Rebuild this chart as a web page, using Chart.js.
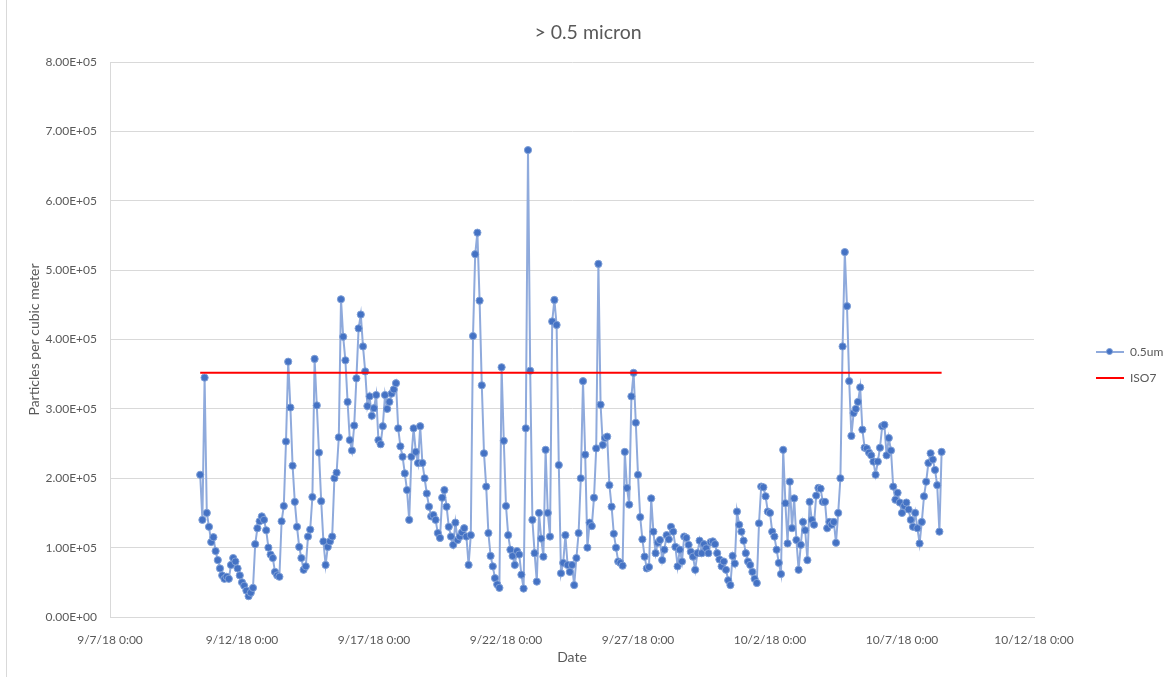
<!DOCTYPE html>
<html lang="en">
<head>
<meta charset="UTF-8" />
<title>&gt; 0.5 micron</title>
<script src="https://cdn.jsdelivr.net/npm/chart.js"></script>
<style>
  html, body {
    margin: 0;
    padding: 0;
    background: #fff;
    overflow: hidden;
  }
  body {
    width: 1176px;
    height: 677px;
    position: relative;
    font-family: Lato, "Open Sans", sans-serif;
  }
  .frame {
    position: absolute;
    left: 6px;
    top: -1px;
    width: 1200px;
    height: 700px;
    border: 1px solid #d9d9d9;
  }
  canvas {
    position: absolute;
    left: 0;
    top: 0;
  }
  .legend {
    position: absolute;
    left: 1096px;
    top: 339px;
    color: #595959;
    font-size: 12px;
  }
  .legend .item {
    height: 26px;
    line-height: 20px;
    display: flex;
    align-items: center;
  }
  .legend .sym {
    position: relative;
    width: 28px;
    height: 20px;
    margin-right: 6px;
  }
  .legend .sym .ln {
    position: absolute;
    left: 0;
    right: 0;
    top: 9px;
    height: 2px;
  }
  .legend .sym .dot {
    position: absolute;
    left: 10px;
    top: 6px;
    width: 7px;
    height: 7px;
    border-radius: 50%;
    background: #4472c4;
    border: 1px solid #7f9fd6;
    box-sizing: border-box;
  }
</style>
</head>
<body>
  <div class="frame"></div>
  <canvas id="chart" width="1176" height="677"></canvas>
  <div class="legend">
    <div class="item"><span class="sym"><span class="ln" style="background:#8faadc"></span><span class="dot"></span></span>0.5um</div>
    <div class="item"><span class="sym"><span class="ln" style="background:#ff0000"></span></span>ISO7</div>
  </div>

  <script>
    // readings every 2 hours, particles per cubic meter
    const axisStart = '2018-09-07T00:00:00Z';
    const axisEnd = '2018-10-12T00:00:00Z';
    const firstReading = '2018-09-10T10:00:00Z';
    const stepHours = 2;
    const particles = [
      205000, 140000, 345000, 150000, 130000, 108000, 115000, 95000, 82000, 70000, 60000, 55000,
      58000, 55000, 75000, 85000, 80000, 70000, 60000, 50000, 45000, 38000, 30000, 35000,
      42000, 105000, 128000, 138000, 145000, 140000, 125000, 100000, 90000, 85000, 65000, 60000,
      58000, 138000, 160000, 253000, 368000, 302000, 218000, 166000, 130000, 101000, 85000, 68000,
      73000, 116000, 126000, 173000, 372000, 305000, 237000, 167000, 109000, 75000, 101000, 109000,
      116000, 200000, 208000, 259000, 458000, 404000, 370000, 310000, 255000, 240000, 276000, 344000,
      416000, 436000, 390000, 354000, 304000, 318000, 290000, 301000, 320000, 255000, 249000, 275000,
      320000, 300000, 310000, 322000, 328000, 337000, 272000, 246000, 231000, 207000, 183000, 140000,
      231000, 272000, 238000, 222000, 275000, 222000, 200000, 178000, 159000, 145000, 147000, 140000,
      121000, 114000, 172000, 183000, 159000, 130000, 116000, 104000, 136000, 111000, 116000, 122000,
      128000, 116000, 75000, 118000, 405000, 523000, 554000, 456000, 334000, 236000, 188000, 121000,
      88000, 73000, 56000, 47000, 42000, 360000, 254000, 160000, 118000, 97000, 88000, 75000,
      95000, 90000, 61000, 41000, 272000, 673000, 355000, 140000, 92000, 51000, 150000, 113000,
      87000, 241000, 150000, 116000, 426000, 457000, 421000, 219000, 63000, 78000, 118000, 75000,
      65000, 75000, 46000, 85000, 121000, 200000, 340000, 234000, 100000, 136000, 131000, 172000,
      243000, 509000, 306000, 248000, 258000, 260000, 190000, 159000, 120000, 100000, 80000, 78000,
      74000, 238000, 186000, 162000, 318000, 352000, 280000, 205000, 144000, 112000, 87000, 70000,
      72000, 171000, 123000, 92000, 107000, 111000, 82000, 97000, 118000, 112000, 130000, 123000,
      101000, 73000, 97000, 80000, 116000, 114000, 104000, 94000, 87000, 68000, 92000, 110000,
      92000, 105000, 99000, 92000, 108000, 109000, 105000, 92000, 83000, 73000, 80000, 68000,
      53000, 46000, 88000, 77000, 152000, 133000, 123000, 110000, 92000, 80000, 75000, 65000,
      55000, 49000, 135000, 188000, 187000, 174000, 152000, 150000, 123000, 116000, 97000, 78000,
      62000, 241000, 164000, 106000, 195000, 128000, 171000, 111000, 68000, 104000, 137000, 125000,
      82000, 166000, 140000, 133000, 175000, 186000, 185000, 166000, 166000, 128000, 137000, 133000,
      137000, 107000, 150000, 200000, 390000, 526000, 448000, 340000, 261000, 294000, 300000, 310000,
      331000, 270000, 244000, 243000, 237000, 233000, 224000, 205000, 224000, 244000, 275000, 277000,
      233000, 258000, 240000, 188000, 169000, 179000, 165000, 150000, 160000, 165000, 155000, 140000,
      130000, 150000, 128000, 106000, 137000, 174000, 195000, 222000, 236000, 227000, 212000, 190000,
      123000, 238000
    ];
    const iso7Limit = 352000;
    const yMax = 800000;
    const yStep = 100000;
    const xStepDays = 5;

    const DAY = 86400000;
    const t0 = Date.parse(axisStart);
    const firstDay = (Date.parse(firstReading) - t0) / DAY;
    const lastDay = firstDay + (particles.length - 1) * stepHours / 24;

    const points = particles.map((v, i) => ({ x: firstDay + i * stepHours / 24, y: v }));
    const isoPoints = [{ x: firstDay, y: iso7Limit }, { x: lastDay, y: iso7Limit }];

    function fmtDate(v) {
      const d = new Date(t0 + v * DAY);
      const mm = String(d.getUTCMinutes()).padStart(2, '0');
      return (d.getUTCMonth() + 1) + '/' + d.getUTCDate() + '/' + String(d.getUTCFullYear()).slice(2) + ' ' + d.getUTCHours() + ':' + mm;
    }

    function sci(v) {
      if (v === 0) return '0.00E+00';
      const e = Math.floor(Math.log10(v) + 1e-9);
      const m = v / Math.pow(10, e);
      return m.toFixed(2) + 'E+' + String(e).padStart(2, '0');
    }

    const textColor = '#595959';
    const font = { family: 'Lato', size: 12 };

    new Chart(document.getElementById('chart'), {
      type: 'line',
      data: {
        datasets: [
          {
            label: '0.5um',
            data: points,
            borderColor: '#8faadc',
            borderWidth: 2,
            tension: 0,
            pointRadius: 3.6,
            pointBackgroundColor: '#4472c4',
            pointBorderColor: '#7f9fd6',
            pointBorderWidth: 1,
            order: 1
          },
          {
            label: 'ISO7',
            data: isoPoints,
            borderColor: '#ff0000',
            borderWidth: 2,
            pointRadius: 0,
            order: 0
          }
        ]
      },
      options: {
        responsive: false,
        animation: false,
        events: [],
        layout: { padding: 0 },
        plugins: {
          legend: { display: false },
          tooltip: { enabled: false },
          title: {
            display: true,
            text: '> 0.5 micron',
            color: textColor,
            font: { family: 'Lato', size: 19.5, weight: 'normal' },
            padding: { top: 21, bottom: 17.6 }
          }
        },
        scales: {
          x: {
            type: 'linear',
            min: 0,
            max: (Date.parse(axisEnd) - t0) / DAY,
            ticks: { stepSize: xStepDays, callback: fmtDate, color: textColor, font: font, padding: 8, maxRotation: 0, autoSkip: false },
            grid: { display: false },
            border: { display: true, color: '#d9d9d9' },
            title: { display: true, text: 'Date', color: textColor, font: { family: 'Lato', size: 14 }, padding: { top: 0, bottom: 11 } },
            afterFit(scale) { scale.height = 60; }
          },
          y: {
            min: 0,
            max: yMax,
            ticks: { stepSize: yStep, callback: sci, color: textColor, font: font, padding: 13 },
            grid: { color: '#d9d9d9', drawTicks: false },
            border: { display: true, color: '#d9d9d9' },
            title: { display: true, text: 'Particles per cubic meter', color: textColor, font: { family: 'Lato', size: 14 }, padding: { top: 26, bottom: 0 } },
            afterFit(scale) { scale.width = 110; }
          },
          // empty band on the right that holds the legend
          legendSpace: {
            type: 'linear',
            position: 'right',
            display: true,
            ticks: { display: false },
            grid: { display: false },
            border: { display: false },
            afterFit(scale) { scale.width = 142; }
          }
        }
      }
    });
  </script>
</body>
</html>
